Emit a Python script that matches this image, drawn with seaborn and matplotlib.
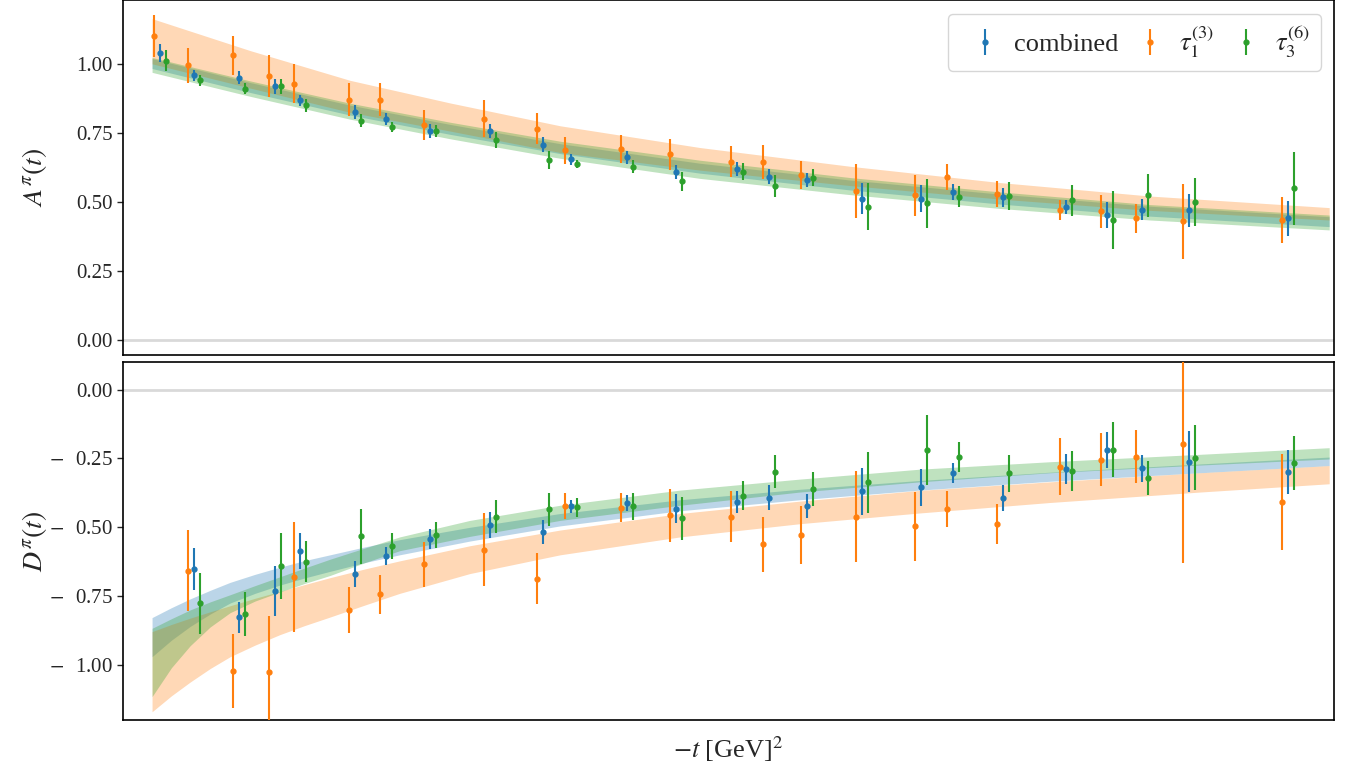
import numpy as np
import matplotlib
matplotlib.use('Agg')
import matplotlib.pyplot as plt
from matplotlib.ticker import FuncFormatter
import seaborn as sns

# -t positions of the lattice points (GeV^2)
t_vals = [0.061, 0.117, 0.192, 0.251, 0.292, 0.383, 0.434, 0.507, 0.606, 0.694,
          0.740, 0.832, 0.913, 1.014, 1.067, 1.130, 1.221, 1.318, 1.371, 1.453,
          1.557, 1.625, 1.683, 1.761, 1.924]
shift = 0.01  # horizontal offset between the three data sets

# A^pi(t) data
A_comb = [1.042, 0.960, 0.952, 0.920, 0.870, 0.827, 0.801, 0.758, 0.758, 0.709,
          0.656, 0.663, 0.610, 0.620, 0.592, 0.580, 0.512, 0.513, 0.537, 0.517,
          0.483, 0.453, 0.473, 0.471, 0.441]
A_comb_err = [0.033, 0.020, 0.024, 0.027, 0.020, 0.024, 0.021, 0.025, 0.027, 0.026,
              0.020, 0.024, 0.026, 0.024, 0.028, 0.025, 0.057, 0.048, 0.028, 0.034,
              0.025, 0.048, 0.039, 0.060, 0.064]
A_tau1 = [1.103, 0.996, 1.033, 0.958, 0.930, 0.872, 0.872, 0.780, 0.803, 0.767,
          0.688, 0.693, 0.673, 0.647, 0.646, 0.598, 0.539, 0.524, 0.592, 0.530,
          0.472, 0.466, 0.441, 0.431, 0.435]
A_tau1_err = [0.075, 0.065, 0.070, 0.077, 0.070, 0.059, 0.059, 0.053, 0.066, 0.055,
              0.048, 0.050, 0.057, 0.056, 0.061, 0.051, 0.098, 0.073, 0.047, 0.047,
              0.036, 0.061, 0.052, 0.136, 0.085]
A_tau3 = [1.014, 0.942, 0.912, 0.920, 0.851, 0.795, 0.774, 0.757, 0.725, 0.652,
          0.638, 0.629, 0.575, 0.611, 0.559, 0.589, 0.484, 0.495, 0.520, 0.522,
          0.506, 0.435, 0.525, 0.501, 0.550]
A_tau3_err = [0.038, 0.021, 0.021, 0.028, 0.023, 0.024, 0.018, 0.022, 0.030, 0.032,
              0.015, 0.025, 0.033, 0.031, 0.039, 0.032, 0.086, 0.088, 0.039, 0.050,
              0.056, 0.106, 0.078, 0.088, 0.133]

# D^pi(t) data (first point lies outside the shown range)
nan = np.nan
D_comb = [nan, -0.652, -0.827, -0.732, -0.585, -0.669, -0.605, -0.542, -0.491, -0.516,
          -0.424, -0.412, -0.432, -0.408, -0.392, -0.423, -0.370, -0.355, -0.304, -0.393,
          -0.288, -0.219, -0.286, -0.262, -0.298]
D_comb_err = [nan, 0.077, 0.057, 0.090, 0.065, 0.048, 0.033, 0.037, 0.047, 0.044,
              0.024, 0.030, 0.053, 0.039, 0.044, 0.044, 0.086, 0.067, 0.037, 0.047,
              0.054, 0.065, 0.048, 0.110, 0.080]
D_tau1 = [nan, -0.657, -1.022, -1.027, -0.682, -0.801, -0.744, -0.634, -0.581, -0.687,
          -0.423, -0.429, -0.457, -0.461, -0.562, -0.529, -0.462, -0.497, -0.434, -0.489,
          -0.280, -0.255, -0.243, -0.196, -0.408]
D_tau1_err = [nan, 0.147, 0.135, 0.206, 0.200, 0.083, 0.072, 0.082, 0.133, 0.092,
              0.047, 0.052, 0.096, 0.092, 0.100, 0.105, 0.165, 0.126, 0.064, 0.072,
              0.104, 0.096, 0.095, 0.435, 0.173]
D_tau3 = [nan, -0.776, -0.816, -0.641, -0.625, -0.532, -0.567, -0.528, -0.462, -0.435,
          -0.428, -0.424, -0.468, -0.385, -0.298, -0.362, -0.337, -0.219, -0.245, -0.304,
          -0.297, -0.218, -0.320, -0.247, -0.265]
D_tau3_err = [nan, 0.110, 0.080, 0.120, 0.075, 0.100, 0.048, 0.048, 0.060, 0.061,
              0.036, 0.050, 0.078, 0.053, 0.059, 0.062, 0.110, 0.127, 0.053, 0.067,
              0.073, 0.099, 0.061, 0.118, 0.098]

# fit bands for A^pi(t)
band_t_A = [0.048, 0.210, 0.375, 0.540, 0.722, 0.953, 1.201, 1.448, 1.696, 1.992]
A_comb_lo = [0.985, 0.898, 0.816, 0.746, 0.676, 0.605, 0.544, 0.493, 0.449, 0.411]
A_comb_hi = [1.021, 0.934, 0.852, 0.782, 0.712, 0.641, 0.580, 0.529, 0.485, 0.447]
A_tau1_lo = [1.002, 0.914, 0.826, 0.758, 0.680, 0.616, 0.560, 0.511, 0.470, 0.435]
A_tau1_hi = [1.166, 1.050, 0.942, 0.860, 0.777, 0.698, 0.630, 0.571, 0.522, 0.480]
A_tau3_lo = [0.971, 0.884, 0.801, 0.730, 0.659, 0.586, 0.527, 0.477, 0.435, 0.399]
A_tau3_hi = [1.025, 0.940, 0.859, 0.790, 0.721, 0.652, 0.589, 0.537, 0.491, 0.453]

# fit bands for D^pi(t)
band_t_D = [0.048, 0.080, 0.111, 0.144, 0.177, 0.218, 0.259, 0.300, 0.342, 0.400,
            0.457, 0.573, 0.722, 0.920, 1.118, 1.316, 1.531, 1.779, 1.992]
D_comb_lo = [-0.970, -0.910, -0.860, -0.815, -0.775, -0.740, -0.710, -0.684, -0.660,
             -0.628, -0.600, -0.550, -0.495, -0.440, -0.400, -0.365, -0.333, -0.302, -0.276]
D_comb_hi = [-0.828, -0.792, -0.760, -0.729, -0.700, -0.671, -0.645, -0.621, -0.600,
             -0.571, -0.545, -0.500, -0.450, -0.400, -0.362, -0.330, -0.300, -0.270, -0.245]
D_tau1_lo = [-1.170, -1.112, -1.062, -1.013, -0.970, -0.928, -0.890, -0.857, -0.826,
             -0.782, -0.740, -0.668, -0.600, -0.535, -0.487, -0.448, -0.410, -0.372, -0.342]
D_tau1_hi = [-0.879, -0.853, -0.830, -0.807, -0.785, -0.758, -0.733, -0.708, -0.683,
             -0.651, -0.622, -0.567, -0.510, -0.450, -0.405, -0.366, -0.335, -0.302, -0.276]
D_tau3_lo = [-1.115, -1.010, -0.930, -0.862, -0.810, -0.768, -0.735, -0.704, -0.675,
             -0.628, -0.585, -0.533, -0.475, -0.420, -0.372, -0.335, -0.302, -0.274, -0.252]
D_tau3_hi = [-0.867, -0.832, -0.800, -0.771, -0.745, -0.712, -0.680, -0.648, -0.616,
             -0.575, -0.535, -0.475, -0.420, -0.365, -0.325, -0.289, -0.262, -0.235, -0.211]

labels = ['combined', r'$\tau_1^{(3)}$', r'$\tau_3^{(6)}$']


def tick_fmt(v, pos):
    # wide minus sign, as in the original tick labels
    if v < -1e-9:
        return r'$-\enspace\;$' + f'{abs(v):.2f}'
    return f'{abs(v):.2f}'


def main():
    sns.set_style('ticks')
    plt.rcParams['font.family'] = ['Liberation Serif', 'DejaVu Serif']
    plt.rcParams['mathtext.fontset'] = 'stix'
    plt.rcParams['axes.edgecolor'] = 'black'
    colors = sns.color_palette('tab10')

    fig = plt.figure(figsize=(13.56, 7.7), dpi=100)
    ax_a = fig.add_axes([0.0907, 0.539, 0.8931, 0.4604])
    ax_d = fig.add_axes([0.0907, 0.0649, 0.8931, 0.4649])

    series = [
        (labels[0], 0.0, colors[0], A_comb, A_comb_err, D_comb, D_comb_err,
         A_comb_lo, A_comb_hi, D_comb_lo, D_comb_hi),
        (labels[1], -shift, colors[1], A_tau1, A_tau1_err, D_tau1, D_tau1_err,
         A_tau1_lo, A_tau1_hi, D_tau1_lo, D_tau1_hi),
        (labels[2], shift, colors[2], A_tau3, A_tau3_err, D_tau3, D_tau3_err,
         A_tau3_lo, A_tau3_hi, D_tau3_lo, D_tau3_hi),
    ]

    t = np.array(t_vals)
    for lab, dx, col, a, a_err, d, d_err, a_lo, a_hi, d_lo, d_hi in series:
        # fit bands
        ax_a.fill_between(band_t_A, a_lo, a_hi, color=col, alpha=0.3, lw=0, zorder=1)
        ax_d.fill_between(band_t_D, d_lo, d_hi, color=col, alpha=0.3, lw=0, zorder=1)
        # lattice data
        ax_a.errorbar(t + dx, a, yerr=a_err, fmt='o', ms=3.5, color=col,
                      elinewidth=1.5, capsize=0, label=lab, zorder=3)
        ax_d.errorbar(t + dx, d, yerr=d_err, fmt='o', ms=3.5, color=col,
                      elinewidth=1.5, capsize=0, label=lab, zorder=3)

    for ax in (ax_a, ax_d):
        ax.axhline(0, color='0.85', lw=2, zorder=0)
        ax.set_xlim(0, 2.0)
        ax.set_xticks([])
        ax.yaxis.set_major_formatter(FuncFormatter(tick_fmt))
        ax.tick_params(axis='y', labelsize=15, length=4, width=1)
        for sp in ax.spines.values():
            sp.set_linewidth(1.2)

    ax_a.set_ylim(-0.055, 1.232)
    ax_a.set_yticks([0.0, 0.25, 0.5, 0.75, 1.0])
    ax_d.set_ylim(-1.2, 0.1)
    ax_d.set_yticks([-1.0, -0.75, -0.5, -0.25, 0.0])

    ax_a.set_ylabel(r'$A^{\pi}(t)$', fontsize=20)
    ax_d.set_ylabel(r'$D^{\pi}(t)$', fontsize=20)
    ax_a.yaxis.set_label_coords(-0.061, 0.5)
    ax_d.yaxis.set_label_coords(-0.061, 0.5)
    ax_d.set_xlabel(r'$-t$ [GeV]$^2$', fontsize=19, labelpad=10)

    ax_a.legend(loc='upper right', ncol=3, fontsize=19, handlelength=2.0,
                handletextpad=0.1, columnspacing=0.2)

    plt.savefig('out.png', dpi=100)


if __name__ == '__main__':
    main()
